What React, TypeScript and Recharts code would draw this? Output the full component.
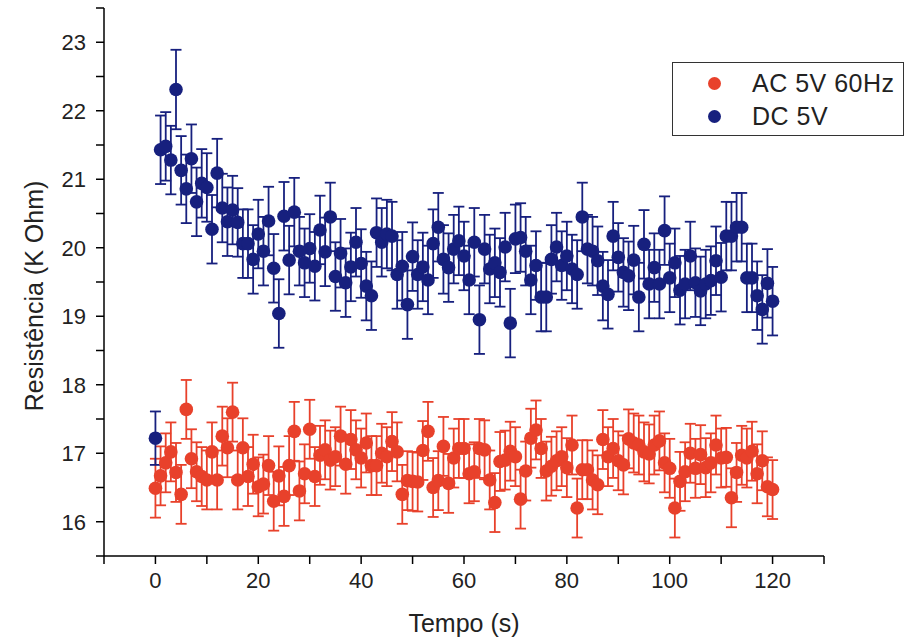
import React from 'react'
import { ScatterChart, Scatter, XAxis, YAxis, ErrorBar, Legend } from 'recharts'

const AC_COLOR = '#e8412b'
const DC_COLOR = '#17207e'
const FONT = '"Liberation Sans", Arial, Helvetica, sans-serif'

// one reading per second, t = index (s)
const acValues = [
  16.49, 16.67, 16.86, 17.02, 16.72, 16.4, 17.64, 16.92, 16.73, 16.66,
  16.61, 17.02, 16.61, 17.25, 17.08, 17.6, 16.61, 17.08, 16.66, 16.84,
  16.51, 16.55, 16.82, 16.3, 16.67, 16.37, 16.82, 17.32, 16.45, 16.7,
  17.35, 16.66, 16.97, 17.05, 16.9, 16.95, 17.25, 16.84, 17.2, 17.05,
  16.93, 17.15, 16.82, 16.82, 17.0, 16.95, 17.17, 17.02, 16.4, 16.6,
  16.59, 16.58, 17.04, 17.32, 16.5, 16.6, 17.1, 16.56, 16.93, 17.07,
  17.07, 16.7, 16.73, 17.07, 17.05, 16.61, 16.28, 16.88, 16.9, 17.03,
  16.95, 16.33, 16.74, 17.22, 17.34, 17.07, 16.74, 16.81, 16.89, 16.95,
  16.79, 17.12, 16.2, 16.76, 16.76, 16.61, 16.54, 17.2, 16.95, 17.07,
  16.89, 16.83, 17.21, 17.15, 17.12, 17.02, 16.99, 17.12, 17.18, 16.86,
  16.78, 16.2, 16.59, 16.73, 17.0, 16.78, 16.98, 16.79, 16.86, 17.12,
  16.93, 16.94, 16.35, 16.72, 16.97, 16.93, 17.03, 16.7, 16.89, 16.51,
  16.47,
]

const dcValues = [
  17.22, 21.43, 21.48, 21.28, 22.31, 21.13, 20.86, 21.3, 20.67, 20.94,
  20.88, 20.27, 21.09, 20.58, 20.38, 20.55, 20.37, 20.06, 20.06, 19.83,
  20.2, 19.95, 20.39, 19.7, 19.04, 20.46, 19.82, 20.52, 19.95, 19.78,
  19.99, 19.73, 20.26, 19.94, 20.45, 19.58, 19.92, 19.49, 19.72, 20.08,
  19.77, 19.44, 19.3, 20.22, 20.08, 20.2, 20.17, 19.61, 19.73, 19.17,
  19.87, 19.61, 19.72, 19.53, 20.06, 20.3, 19.83, 19.71, 19.98, 20.1,
  19.88, 19.53, 20.08, 18.95, 19.98, 19.69, 19.78, 19.64, 20.01, 18.9,
  20.13, 20.15, 19.95, 19.53, 19.74, 19.28, 19.28, 19.83, 20.01, 19.74,
  19.88, 19.69, 19.61, 20.45, 19.98, 19.95, 19.81, 19.44, 19.32, 20.17,
  19.86, 19.64, 19.59, 19.82, 19.28, 20.05, 19.47, 19.71, 19.47, 20.25,
  19.56, 19.78, 19.38, 19.47, 19.88, 19.49, 19.37, 19.47, 19.52, 19.81,
  19.57, 20.17, 20.17, 20.3, 20.3, 19.56, 19.56, 19.3, 19.1, 19.48,
  19.22,
]

const acErr = 0.43
const dcErr = 0.5
const dcErrOverride: Record<number, number> = { 0: 0.39, 4: 0.58 }

const xTicks = [-10, 0, 10, 20, 30, 40, 50, 60, 70, 80, 90, 100, 110, 120, 130]
const xLabels = [0, 20, 40, 60, 80, 100, 120]
const yTicks = [15.5, 16, 16.5, 17, 17.5, 18, 18.5, 19, 19.5, 20, 20.5, 21, 21.5, 22, 22.5, 23, 23.5]
const yLabels = [16, 17, 18, 19, 20, 21, 22, 23]

const acData = acValues.map((v, i) => ({ t: i, v, err: acErr }))
const dcData = dcValues.map((v, i) => ({ t: i, v, err: dcErrOverride[i] ?? dcErr }))

const dot = (color: string) => (p: any) => <circle cx={p.cx} cy={p.cy} r={6.8} fill={color} />

const XTitle = (props: any) => {
  const vb = props.viewBox
  return (
    <text x={vb.x + vb.width / 2} y={vb.y + 76} textAnchor='middle' fontSize={25} fill='#222' fontFamily={FONT}>
      Tempo (s)
    </text>
  )
}

const YTitle = (props: any) => {
  const vb = props.viewBox
  const x = vb.x + 35
  const y = vb.y + vb.height / 2 + 14
  return (
    <text x={x} y={y} transform={`rotate(-90 ${x} ${y})`} textAnchor='middle' fontSize={25} fill='#222' fontFamily={FONT}>
      Resistência (K Ohm)
    </text>
  )
}

const legendRows = [
  { name: 'AC 5V 60Hz', color: AC_COLOR },
  { name: 'DC 5V', color: DC_COLOR },
]

const renderLegend = () => (
  <div
    style={{
      position: 'relative',
      width: 232,
      height: 74,
      border: '1px solid #333',
      boxSizing: 'border-box',
      background: '#fff',
      fontFamily: FONT,
    }}
  >
    {legendRows.map((row, i) => (
      <div key={row.name} style={{ position: 'absolute', left: 0, top: 4 + i * 33, height: 33, width: 230 }}>
        <span
          style={{
            position: 'absolute',
            left: 35,
            top: 10,
            width: 13,
            height: 13,
            borderRadius: '50%',
            background: row.color,
          }}
        />
        <span style={{ position: 'absolute', left: 79, top: 1, fontSize: 25, letterSpacing: 0.5, color: '#222', lineHeight: '30px' }}>
          {row.name}
        </span>
      </div>
    ))}
  </div>
)

export default function App() {
  return (
    <div style={{ position: 'absolute', left: 0, top: 0, width: 912, height: 639, background: '#fff' }}>
      <ScatterChart width={912} height={639} margin={{ top: 8, right: 88, bottom: 8, left: 8 }}>
        <XAxis
          type='number'
          dataKey='t'
          domain={[-10, 130]}
          ticks={xTicks}
          interval={0}
          tickFormatter={(v: number) => (xLabels.includes(v) ? String(v) : '')}
          tickSize={8}
          tickMargin={8}
          height={75}
          stroke='#000'
          strokeWidth={1.5}
          tick={{ fill: '#222', fontSize: 22, fontFamily: FONT }}
          label={<XTitle />}
        />
        <YAxis
          type='number'
          dataKey='v'
          domain={[15.5, 23.5]}
          ticks={yTicks}
          interval={0}
          tickFormatter={(v: number) => (yLabels.includes(v) ? String(v) : '')}
          tickSize={8}
          tickMargin={10}
          width={96}
          stroke='#000'
          strokeWidth={1.5}
          tick={{ fill: '#222', fontSize: 22, fontFamily: FONT }}
          label={<YTitle />}
        />
        <Legend
          layout='horizontal'
          verticalAlign='middle'
          align='center'
          content={renderLegend}
          wrapperStyle={{ left: 672, top: 62, width: 232, height: 74 }}
        />
        <Scatter name='AC 5V 60Hz' data={acData} fill={AC_COLOR} shape={dot(AC_COLOR)} isAnimationActive={false}>
          <ErrorBar dataKey='err' direction='y' width={5.5} stroke={AC_COLOR} strokeWidth={1.8} />
        </Scatter>
        <Scatter name='DC 5V' data={dcData} fill={DC_COLOR} shape={dot(DC_COLOR)} isAnimationActive={false}>
          <ErrorBar dataKey='err' direction='y' width={5.5} stroke={DC_COLOR} strokeWidth={1.8} />
        </Scatter>
      </ScatterChart>
    </div>
  )
}
